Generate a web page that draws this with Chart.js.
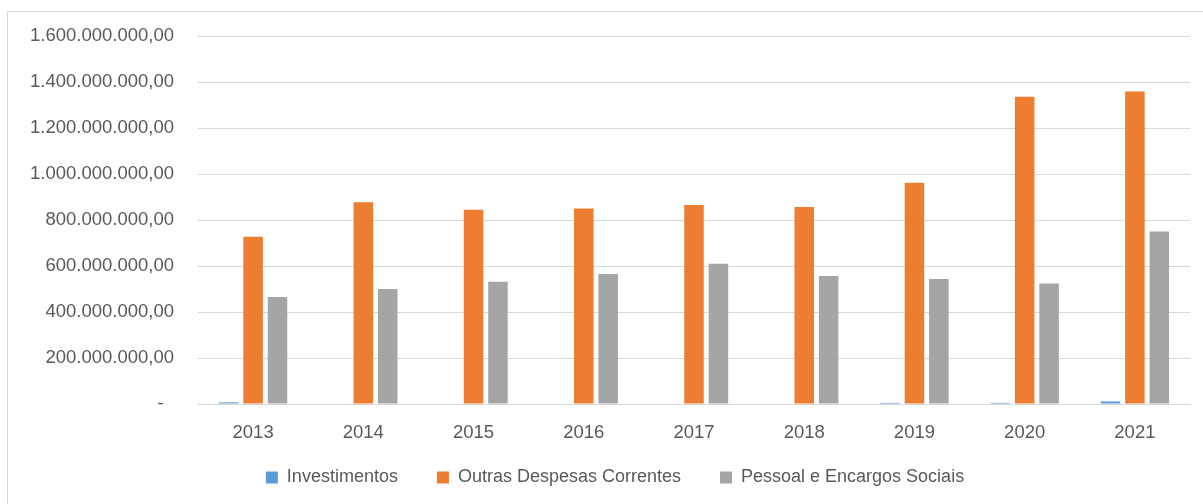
<!DOCTYPE html>
<html>
<head>
<meta charset="utf-8">
<script src="https://cdn.jsdelivr.net/npm/chart.js@4.4.1/dist/chart.umd.min.js"></script>
<style>
  html, body { margin: 0; padding: 0; background: #ffffff; overflow: hidden; width: 1203px; height: 504px; }
  #frame { position: absolute; left: 7px; top: 11px; width: 1216px; height: 510px; border: 1px solid #d9d9d9; box-sizing: border-box; background: #fff; }
  canvas { display: block; }
</style>
</head>
<body>
<div id="frame"><canvas id="c" width="1214" height="508"></canvas></div>
<script>
const categories = ['2013', '2014', '2015', '2016', '2017', '2018', '2019', '2020', '2021'];
const investimentos = [7000000, 0, 0, 0, 0, 0, 5000000, 5000000, 11000000];
const outrasDespesasCorrentes = [727000000, 877000000, 845000000, 850000000, 865000000, 857000000, 962000000, 1336000000, 1359000000];
const pessoalEncargosSociais = [465000000, 500000000, 532000000, 565000000, 610000000, 556000000, 543000000, 524000000, 750000000];
const seriesNames = ['Investimentos', 'Outras Despesas Correntes', 'Pessoal e Encargos Sociais'];
const yTickValues = [0, 200000000, 400000000, 600000000, 800000000, 1000000000, 1200000000, 1400000000, 1600000000];

function formatBR(v) {
  if (v === 0) return '-  ';
  const intPart = Math.round(v).toString().replace(/\B(?=(\d{3})+(?!\d))/g, '.');
  return intPart + ',00';
}

const FONT = { family: '"Liberation Sans", Arial, sans-serif', size: 18.5 };
const LFONT = { family: '"Liberation Sans", Arial, sans-serif', size: 18 };
const TXT = '#595959';

// Shift the legend block (as Excel centers it in the full chart area)
const legendShift = {
  id: 'legendShift',
  beforeDraw(chart) {
    const lg = chart.legend;
    if (!lg) return;
    lg.left += 16; lg.right += 16;
    lg.top -= 14.5; lg.bottom -= 14.5;
  }
};

new Chart(document.getElementById('c'), {
  type: 'bar',
  data: {
    labels: categories,
    datasets: [
      { label: seriesNames[0], data: investimentos, backgroundColor: '#5B9BD5' },
      { label: seriesNames[1], data: outrasDespesasCorrentes, backgroundColor: '#ED7D31' },
      { label: seriesNames[2], data: pessoalEncargosSociais, backgroundColor: '#A5A5A5' }
    ]
  },
  plugins: [legendShift],
  options: {
    responsive: false,
    animation: false,
    devicePixelRatio: 1,
    datasets: { bar: { categoryPercentage: 0.664, barPercentage: 0.8 } },
    layout: { padding: { left: 0, right: 32, top: 24, bottom: 9 } },
    plugins: {
      tooltip: { enabled: false },
      legend: {
        position: 'bottom',
        labels: { boxWidth: 12, boxHeight: 12, padding: 39, color: TXT, font: LFONT }
      }
    },
    scales: {
      x: {
        afterFit: (s) => { s.height = 40; },
        grid: { display: false, drawTicks: false },
        border: { display: true, color: '#d9d9d9', width: 1 },
        ticks: { color: TXT, font: FONT, padding: 18 }
      },
      y: {
        min: 0, max: 1600000000,
        afterFit: (s) => { s.width = 190; s.paddingTop = 0; s.paddingBottom = 0; },
        afterBuildTicks: (s) => { s.ticks = yTickValues.map(v => ({ value: v })); },
        grid: { color: '#d9d9d9', lineWidth: 1, drawTicks: false },
        border: { display: false },
        ticks: { color: TXT, font: FONT, padding: 24, callback: (v) => formatBR(v) }
      }
    }
  }
});
</script>
</body>
</html>
